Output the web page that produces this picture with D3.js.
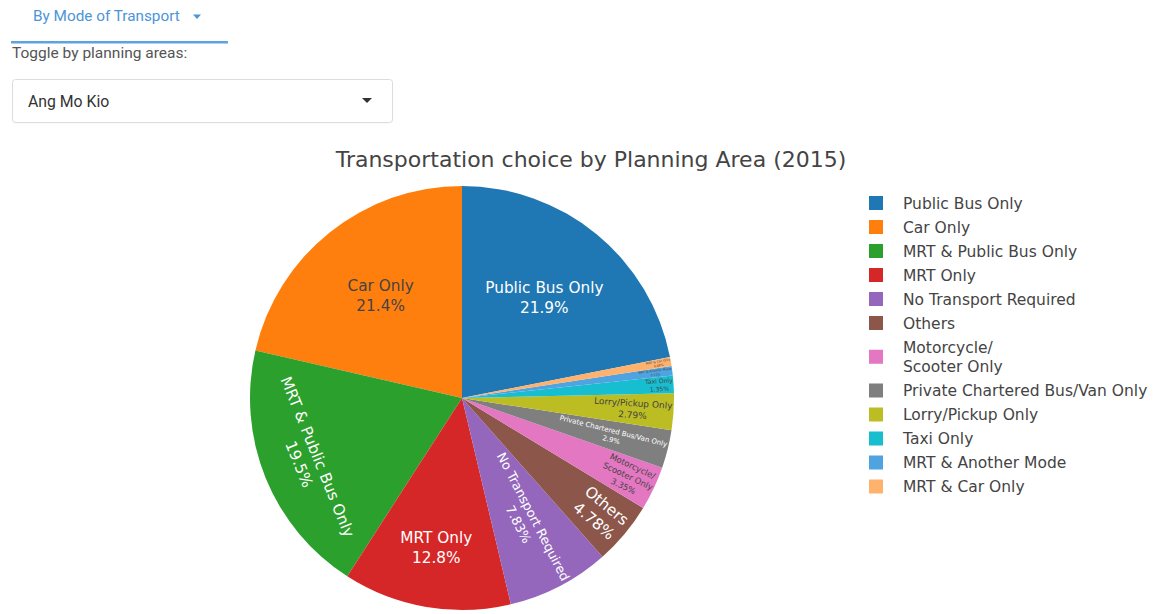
<!DOCTYPE html>
<html>
<head>
<meta charset="utf-8">
<title>Transportation choice by Planning Area (2015)</title>
<style>
body { margin: 0; background: #fff; }
text { font-family: "DejaVu Sans", Verdana, sans-serif; }
.ui { font-family: Roboto, "Liberation Sans", Arial, sans-serif; }
</style>
</head>
<body>
<script src="https://cdn.jsdelivr.net/npm/d3@7"></script>
<script>

// data (share of residents, %)
var categories = ["Public Bus Only", "Car Only", "MRT & Public Bus Only", "MRT Only",
  "No Transport Required", "Others", "Motorcycle/\nScooter Only",
  "Private Chartered Bus/Van Only", "Lorry/Pickup Only", "Taxi Only",
  "MRT & Another Mode", "MRT & Car Only"];
var shares = [21.9, 21.4, 19.5, 12.8, 7.83, 4.78, 3.35, 2.9, 2.79, 1.35, 0.72, 0.68];
var colors = ["#1f77b4", "#ff7f0e", "#2ca02c", "#d62728", "#9467bd", "#8c564b",
  "#e377c2", "#7f7f7f", "#bcbd22", "#17becf", "#4fa3e0", "#ffb26e"];

var width = 1159, height = 614;
var cx = 462, cy = 398, R = 212;
var TEXTPAD = 3;
var tau = Math.PI * 2;

var svg = d3.select("body").append("svg")
    .attr("width", width)
    .attr("height", height);

// ---- top controls ----
var ui = svg.append("g").attr("class", "ui");
ui.append("text")
    .attr("class", "ui")
    .attr("x", 33).attr("y", 21)
    .style("font-size", "15.3px")
    .style("fill", "#4b95d8")
    .text("By Mode of Transport");
ui.append("path")
    .attr("d", "M193,14.5 l8,0 l-4,4.5 z")
    .style("fill", "#4b95d8");
ui.append("rect")
    .attr("x", 11).attr("y", 41).attr("width", 217).attr("height", 2.5)
    .style("fill", "#5ea3df");
ui.append("text")
    .attr("class", "ui")
    .attr("x", 12).attr("y", 58)
    .style("font-size", "15.5px")
    .style("fill", "#555")
    .text("Toggle by planning areas:");
ui.append("rect")
    .attr("x", 12.5).attr("y", 80.5).attr("width", 380).attr("height", 43).attr("rx", 3)
    .style("fill", "#eee").style("opacity", 0.6);
ui.append("rect")
    .attr("x", 12.5).attr("y", 79.5).attr("width", 380).attr("height", 43).attr("rx", 3)
    .style("fill", "#fff").style("stroke", "#dcdcdc");
ui.append("text")
    .attr("class", "ui")
    .attr("x", 28).attr("y", 107)
    .style("font-size", "15.8px")
    .style("fill", "#333")
    .text("Ang Mo Kio");
ui.append("path")
    .attr("d", "M362,98 l10,0 l-5,5 z")
    .style("fill", "#333");

// ---- title ----
svg.append("text")
    .attr("x", 591).attr("y", 167)
    .attr("text-anchor", "middle")
    .style("font-size", "22px")
    .style("fill", "#444")
    .text("Transportation choice by Planning Area (2015)");

// ---- pie (plotly style: sorted, first slice ends at 12 o'clock, counterclockwise) ----
var total = d3.sum(shares);
var data = categories.map(function(c, i) { return {name: c, value: shares[i], color: colors[i]}; });
var a0 = tau * shares[0] / total;
var pie = d3.pie().sort(null).value(function(d) { return d.value; })
    .startAngle(a0).endAngle(a0 - tau);
var arcs = pie(data);
var arc = d3.arc().innerRadius(0).outerRadius(R);

var g = svg.append("g").attr("transform", "translate(" + cx + "," + cy + ")");
g.selectAll("path.slice")
    .data(arcs)
    .enter().append("path")
    .attr("class", "slice")
    .attr("d", arc)
    .style("fill", function(d) { return d.data.color; });

var fmtPct = d3.format(".3~r");

function isLight(c) {
  var rgb = d3.rgb(c);
  return (rgb.r * 299 + rgb.g * 587 + rgb.b * 114) / 1000 >= 128;
}

function calcRotate(t) {
  var r = t * 180 / Math.PI - 90;
  r = ((r % 180) + 180) % 180;
  if (r > 90) r -= 180;
  return r;
}
function calcMaxHalfSize(a, half, r) {
  var q = a + 1 / (2 * Math.tan(half));
  return r * Math.min(1 / (Math.sqrt(q * q + 0.5) + q), 1 / (Math.sqrt(a * a + 0.5) + a));
}
function calcRCenter(a, b) { return Math.cos(b) - a * b; }
function radT(bb, r, half, mid) {
  r = Math.max(0, r - 2 * TEXTPAD);
  var a = bb.width / bb.height;
  var s = calcMaxHalfSize(a, half, r);
  return {scale: s * 2 / bb.height, rCenter: calcRCenter(a, s / r), rotate: calcRotate(mid)};
}
function tanT(bb, r, half, mid) {
  r = Math.max(0, r - 2 * TEXTPAD);
  var a = bb.height / bb.width;
  var s = calcMaxHalfSize(a, half, r);
  return {scale: s * 2 / bb.width, rCenter: calcRCenter(a, s / r), rotate: calcRotate(mid + Math.PI / 2)};
}

function insideTransform(bb, start, stop) {
  var half = Math.abs(stop - start) / 2, mid = (start + stop) / 2;
  var rIns = Math.min(1 / (1 + 1 / Math.sin(half)), 0.5);
  var diam = Math.sqrt(bb.width * bb.width + bb.height * bb.height);
  var t = {scale: rIns * R * 2 / diam, rCenter: 1 - rIns, rotate: 0, pos: mid};
  if (t.scale >= 1) return t;
  var all = [t];
  function cross(angle, key) {
    if ((start > angle && angle > stop) || (start < angle && angle < stop)) {
      var edge = Math.min(Math.abs(angle - start), Math.abs(angle - stop));
      var n = key === "tan" ? tanT(bb, R, edge, 0) : radT(bb, R, edge, Math.PI / 2);
      n.pos = angle;
      all.push(n);
    }
  }
  for (var i = 3; i >= -3; i--) {
    cross(Math.PI * i, "tan");
    cross(Math.PI * (i + 0.5), "rad");
  }
  var rt = radT(bb, R, half, mid); rt.pos = mid; all.push(rt);
  var tt = tanT(bb, R, half, mid); tt.pos = mid; all.push(tt);
  var best = all[0];
  all.forEach(function(x) { if (x.scale > best.scale) best = x; });
  return best;
}

var labels = g.selectAll("g.lbl")
    .data(arcs)
    .enter().append("g")
    .attr("class", "lbl");

labels.each(function(d) {
  var lg = d3.select(this);
  var inner = lg.append("g");
  var lines = d.data.name.split("\n").concat([fmtPct(d.value / total * 100) + "%"]);
  var txt = inner.append("text")
      .attr("text-anchor", "middle")
      .style("font-size", "15.3px")
      .style("fill", isLight(d.data.color) ? "#444" : "#fff");
  lines.forEach(function(l, i) {
    txt.append("tspan").attr("x", 0).attr("dy", i === 0 ? 0 : "1.3em").text(l);
  });
  var bb = txt.node().getBBox();
  var t = insideTransform(bb, d.startAngle, d.endAngle);
  var s = Math.min(1, t.scale);
  var tx = t.rCenter * R * Math.sin(t.pos), ty = -t.rCenter * R * Math.cos(t.pos);
  inner.attr("transform", "translate(" + (-(bb.x + bb.width / 2)) + "," + (-(bb.y + bb.height / 2)) + ")");
  lg.attr("transform", "translate(" + tx + "," + ty + ") rotate(" + t.rotate + ") scale(" + s + ")");
});

// ---- legend ----
var legend = svg.append("g").attr("class", "legend");
var ly = 203;
data.forEach(function(d) {
  var lines = d.name.split("\n");
  var item = legend.append("g");
  var mid = ly + 19.5 * (lines.length - 1) / 2;
  item.append("rect")
      .attr("x", 869).attr("y", mid - 7).attr("width", 14).attr("height", 14)
      .style("fill", d.color);
  var t = item.append("text")
      .attr("x", 903).attr("y", ly + 5.5)
      .style("font-size", "15.5px")
      .style("fill", "#444");
  lines.forEach(function(l, i) {
    t.append("tspan").attr("x", 903).attr("dy", i === 0 ? 0 : 19.5).text(l);
  });
  ly += 24 + 19.5 * (lines.length - 1);
});

</script>
</body>
</html>
